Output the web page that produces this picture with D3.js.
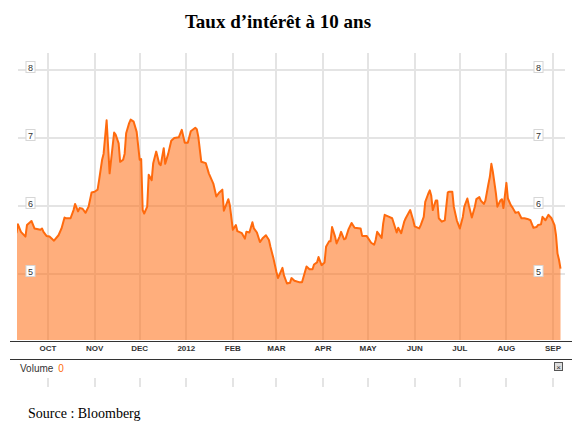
<!DOCTYPE html>
<meta charset="utf-8">
<style>
  body{ margin:0; background:#fff; }
  .title{ font-family:"Liberation Serif","Times New Roman",serif; font-weight:bold; font-size:19px; fill:#000; }
  .grid line{ stroke:#e4e4e4; stroke-width:1.5px; shape-rendering:crispEdges; }
  .month{ font-family:"Liberation Sans",Arial,sans-serif; font-weight:bold; font-size:8px; fill:#333; }
  .ylab rect{ fill:#fff; stroke:#d6d6d6; }
  .ylab text{ font-family:"Liberation Sans",Arial,sans-serif; font-size:9px; fill:#333; }
  .source{ font-family:"Liberation Serif","Times New Roman",serif; font-size:14px; fill:#000; }
</style>
<body>
<script src="https://cdn.jsdelivr.net/npm/d3@7"></script>
<script>

  var dates = ["2011-09-10","2011-09-11","2011-09-13","2011-09-16","2011-09-17","2011-09-20","2011-09-22","2011-09-26","2011-09-27","2011-09-28","2011-09-30",
    "2011-10-02","2011-10-05","2011-10-08","2011-10-10","2011-10-12","2011-10-13","2011-10-16","2011-10-18","2011-10-19","2011-10-21","2011-10-22","2011-10-24","2011-10-26","2011-10-28","2011-10-30",
    "2011-11-01","2011-11-03","2011-11-04","2011-11-06","2011-11-07","2011-11-09","2011-11-11","2011-11-12","2011-11-14","2011-11-15","2011-11-17","2011-11-18","2011-11-20","2011-11-21","2011-11-22","2011-11-24","2011-11-25","2011-11-27","2011-11-29",
    "2011-12-01","2011-12-02","2011-12-03","2011-12-04","2011-12-06","2011-12-07","2011-12-09","2011-12-10","2011-12-12","2011-12-14","2011-12-15","2011-12-17","2011-12-18","2011-12-20","2011-12-22","2011-12-24","2011-12-27","2011-12-29","2011-12-31",
    "2012-01-02","2012-01-04","2012-01-07","2012-01-08","2012-01-09","2012-01-11","2012-01-14","2012-01-16","2012-01-19","2012-01-21","2012-01-23","2012-01-25","2012-01-26","2012-01-29","2012-01-30",
    "2012-02-01","2012-02-03","2012-02-04","2012-02-07","2012-02-09","2012-02-10","2012-02-12","2012-02-14","2012-02-15","2012-02-17","2012-02-19","2012-02-21","2012-02-23","2012-02-25","2012-02-26","2012-02-28",
    "2012-03-01","2012-03-02","2012-03-05","2012-03-06","2012-03-08","2012-03-10","2012-03-11","2012-03-13","2012-03-16","2012-03-18","2012-03-21","2012-03-23","2012-03-25","2012-03-26","2012-03-28","2012-03-29","2012-03-31",
    "2012-04-02","2012-04-03","2012-04-05","2012-04-06","2012-04-07","2012-04-09","2012-04-10","2012-04-12","2012-04-13","2012-04-15","2012-04-16","2012-04-18","2012-04-20","2012-04-22","2012-04-26","2012-04-27","2012-04-30",
    "2012-05-03","2012-05-05","2012-05-06","2012-05-07","2012-05-10","2012-05-11","2012-05-12","2012-05-15","2012-05-17","2012-05-20","2012-05-21","2012-05-23","2012-05-25","2012-05-26","2012-05-29","2012-05-31",
    "2012-06-01","2012-06-04","2012-06-05","2012-06-07","2012-06-08","2012-06-10","2012-06-11","2012-06-12","2012-06-13","2012-06-15","2012-06-16","2012-06-17","2012-06-19","2012-06-21","2012-06-23","2012-06-24","2012-06-26","2012-06-27","2012-06-29",
    "2012-07-01","2012-07-03","2012-07-04","2012-07-06","2012-07-07","2012-07-09","2012-07-11","2012-07-12","2012-07-14","2012-07-15","2012-07-17","2012-07-18","2012-07-20","2012-07-21","2012-07-22","2012-07-23","2012-07-25","2012-07-26","2012-07-28","2012-07-29","2012-07-30",
    "2012-08-01","2012-08-02","2012-08-04","2012-08-05","2012-08-07","2012-08-09","2012-08-11","2012-08-13","2012-08-15","2012-08-17","2012-08-19","2012-08-21","2012-08-22","2012-08-24","2012-08-25","2012-08-27","2012-08-29","2012-08-31",
    "2012-09-02","2012-09-03","2012-09-04","2012-09-05","2012-09-06"];

  var rates = [5.60,5.73,5.62,5.55,5.72,5.78,5.67,5.65,5.67,5.62,5.56,
    5.55,5.49,5.57,5.67,5.83,5.82,5.82,5.94,6.03,5.92,5.97,5.96,5.90,5.99,6.20,
    6.21,6.24,6.38,6.68,6.77,7.26,6.48,6.68,7.08,7.05,6.92,6.65,6.68,6.77,7.07,7.22,7.27,7.24,7.09,
    6.68,6.69,5.94,5.89,5.99,6.46,6.38,6.63,6.80,6.62,6.60,6.85,6.62,6.77,6.96,7.00,7.01,7.12,6.93,
    6.93,7.10,7.15,7.13,7.02,6.65,6.63,6.48,6.33,6.14,6.20,6.24,5.93,6.10,6.01,
    5.65,5.72,5.63,5.60,5.52,5.62,5.61,5.76,5.67,5.61,5.47,5.53,5.57,5.50,5.40,5.23,
    5.03,4.94,5.09,4.98,4.86,4.87,4.94,4.90,4.88,4.88,5.11,5.07,5.07,5.14,5.17,5.25,5.13,
    5.17,5.40,5.48,5.48,5.69,5.55,5.45,5.55,5.62,5.51,5.52,5.66,5.75,5.68,5.67,5.56,5.56,
    5.46,5.43,5.50,5.62,5.53,5.74,5.87,5.84,5.82,5.61,5.68,5.60,5.77,5.82,5.94,5.79,
    5.70,5.67,5.72,5.84,6.06,6.18,6.23,6.15,5.94,6.08,6.08,5.82,5.77,5.79,6.20,6.21,6.21,5.99,5.79,
    5.67,5.84,5.99,6.11,6.01,5.83,5.99,6.10,6.13,6.08,6.03,6.08,6.32,6.43,6.62,6.50,6.19,5.99,6.08,6.10,5.97,
    6.34,6.11,6.01,5.98,5.90,5.91,5.82,5.82,5.81,5.79,5.68,5.69,5.72,5.73,5.84,5.79,5.87,5.82,
    5.72,5.57,5.30,5.21,5.08];

  var monthTicks = ["2011-10-01","2011-11-01","2011-12-01","2012-01-01","2012-02-01","2012-03-01","2012-04-01","2012-05-01","2012-06-01","2012-07-01","2012-08-01","2012-09-01"];
  var monthLabels = ["OCT","NOV","DEC","2012","FEB","MAR","APR","MAY","JUN","JUL","AUG","SEP"];
  var yTicks = [5,6,7,8];

  var parse = d3.timeParse("%Y-%m-%d");
  var data = dates.map(function(d,i){ return {date:parse(d), value:rates[i]}; });

  var pLeft = 18, pRight = 563, pTop = 53, pBottom = 340;

  var svg = d3.select("body").append("svg").attr("width",582).attr("height",426);

  var x = d3.scaleTime().domain([parse("2011-10-01"), parse("2012-09-01")]).range([48, 553]);
  var y = d3.scaleLinear().domain([5, 8]).range([274, 70]);

  svg.append("text").attr("class","title")
    .attr("x",278).attr("y",28).attr("text-anchor","middle")
    .text("Taux d\u2019intérêt à 10 ans");

  // grid (the translucent area sits on top of it)
  var grid = svg.append("g").attr("class","grid");
  grid.selectAll(".v").data(monthTicks).enter().append("line")
    .attr("x1",d=>Math.round(x(parse(d)))).attr("x2",d=>Math.round(x(parse(d))))
    .attr("y1",pTop).attr("y2",pBottom);
  grid.selectAll(".h").data(yTicks).enter().append("line")
    .attr("x1",pLeft).attr("x2",pRight+2)
    .attr("y1",d=>Math.round(y(d))).attr("y2",d=>Math.round(y(d)));

  svg.append("clipPath").attr("id","plotclip").append("rect")
    .attr("x",pLeft-1).attr("y",pTop).attr("width",pRight-pLeft+1).attr("height",pBottom-pTop);

  var area = d3.area().x(d=>x(d.date)).y0(pBottom).y1(d=>y(d.value));
  var line = d3.line().x(d=>x(d.date)).y(d=>y(d.value));

  var plot = svg.append("g").attr("clip-path","url(#plotclip)");
  plot.append("path").datum(data).attr("d",area)
    .attr("fill","#ff6a0d").attr("fill-opacity",0.54);
  plot.append("path").datum(data).attr("d",line)
    .attr("fill","none").attr("stroke","#ff6a0d").attr("stroke-width",2)
    .attr("stroke-linejoin","round");

  // y labels in boxes on both sides
  [30.5, 538.5].forEach(function(cx){
    var lab = svg.append("g").attr("class","ylab").selectAll("g").data(yTicks).enter().append("g")
      .attr("transform",d=>"translate("+cx+","+(y(d)-3)+")");
    lab.append("rect").attr("x",-4.5).attr("y",-5.5).attr("width",9).attr("height",11);
    lab.append("text").attr("text-anchor","middle").attr("y",3.5).text(d=>d);
  });

  // x axis
  svg.append("line").attr("x1",10).attr("x2",572).attr("y1",341.5).attr("y2",341.5)
    .attr("stroke","#333").attr("stroke-width",1);
  svg.selectAll(".month").data(monthTicks).enter().append("text").attr("class","month")
    .attr("x",d=>x(parse(d))).attr("y",351).attr("text-anchor","middle")
    .text((d,i)=>monthLabels[i]);
  svg.append("line").attr("x1",10).attr("x2",572).attr("y1",359.5).attr("y2",359.5)
    .attr("stroke","#333").attr("stroke-width",1);

  // volume strip
  var vol = svg.append("text").attr("x",20).attr("y",372)
    .style("font-family","'Liberation Sans',Arial,sans-serif").style("font-size","10px").attr("fill","#333");
  vol.append("tspan").text("Volume");
  vol.append("tspan").attr("dx",5).attr("fill","#ff6a0d").text("0");

  svg.append("rect").attr("x",554.5).attr("y",362.5).attr("width",8).attr("height",8)
    .attr("fill","#ddd").attr("stroke","#555");
  svg.append("text").attr("x",558.5).attr("y",369.5).attr("text-anchor","middle")
    .style("font-family","'Liberation Sans',Arial,sans-serif").style("font-size","8px").attr("fill","#333").text("\u00d7");

  svg.selectAll(".vtick").data(monthTicks).enter().append("line")
    .attr("x1",d=>Math.round(x(parse(d)))).attr("x2",d=>Math.round(x(parse(d))))
    .attr("y1",378).attr("y2",387)
    .attr("stroke","#e4e4e4").attr("stroke-width",2);

  svg.append("text").attr("class","source").attr("x",28).attr("y",418).text("Source : Bloomberg");

</script>
</body>
